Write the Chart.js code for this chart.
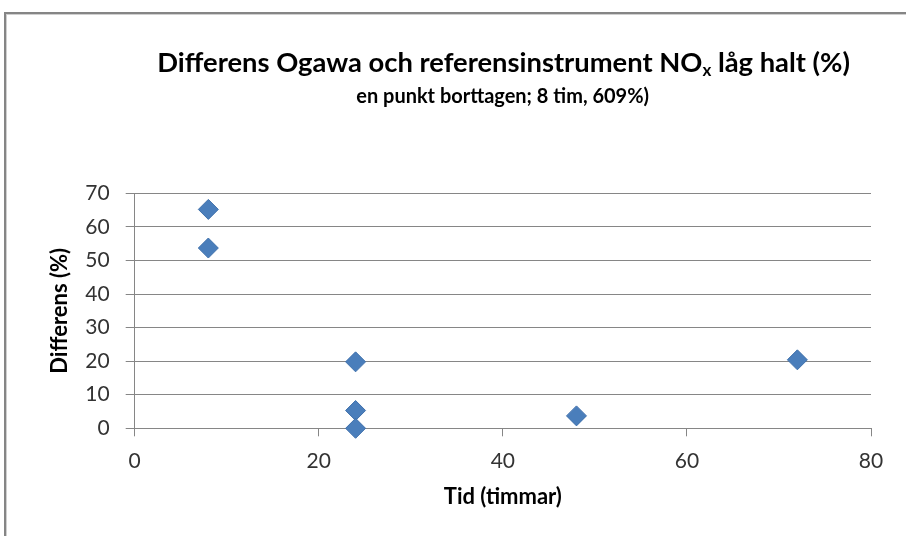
<!DOCTYPE html>
<html>
<head>
<meta charset="utf-8">
<script src="https://cdn.jsdelivr.net/npm/chart.js@4.4.1/dist/chart.umd.min.js"></script>
<style>
html,body{margin:0;padding:0;background:#fff;overflow:hidden;width:906px;height:536px;}
#frame{position:absolute;left:4px;top:12px;width:1000px;height:1000px;border-left:2px solid #858585;border-top:2px solid #858585;box-shadow:inset 1px 1px 0 #cfcfcf;}
#wrap{position:absolute;left:0;top:0;width:906px;height:536px;}
canvas{display:block;}
</style>
</head>
<body>
<div id="frame"></div>
<div id="wrap"><canvas id="c" width="906" height="536"></canvas></div>
<script>
// ---- data ----
const titleMain = 'Differens Ogawa och referensinstrument NO';
const titleSubscript = 'x';
const titleEnd = ' låg halt (%)';
const subtitleText = 'en punkt borttagen; 8 tim, 609%)';
const xAxisTitle = 'Tid (timmar)';
const yAxisTitle = 'Differens (%)';
const timeHours = [8, 8, 24, 24, 24, 48, 72];
const diffPercent = [65.2, 53.7, 19.8, 5.3, 0, 3.7, 20.4];
const xTickValues = [0, 20, 40, 60, 80];
const yTickValues = [0, 10, 20, 30, 40, 50, 60, 70];

const FAMILY = 'Lato, "Liberation Sans", "DejaVu Sans", sans-serif';
Chart.defaults.font.family = FAMILY;

const points = timeHours.map((t, i) => ({x: t, y: diffPercent[i]}));

const titlePlugin = {
  id: 'customTitle',
  afterDraw(chart) {
    const ctx = chart.ctx;
    const ca = chart.chartArea;
    const cx = (ca.left + ca.right) / 2 + 0.8;
    ctx.save();
    ctx.fillStyle = '#000';
    ctx.textBaseline = 'alphabetic';
    ctx.textAlign = 'left';
    const targetW = 693;
    const subRatio = 0.62;
    const measure = (s) => {
      ctx.font = `bold ${s}px ${FAMILY}`;
      const a = ctx.measureText(titleMain).width;
      const c = ctx.measureText(titleEnd).width;
      ctx.font = `bold ${s * subRatio}px ${FAMILY}`;
      const b = ctx.measureText(titleSubscript).width;
      return [a, b, c];
    };
    let m = measure(100);
    const size = 100 * targetW / (m[0] + m[1] + m[2]);
    m = measure(size);
    const total = m[0] + m[1] + m[2];
    let x = cx - total / 2;
    const base = 71.5;
    ctx.font = `bold ${size}px ${FAMILY}`;
    ctx.fillText(titleMain, x, base);
    x += m[0];
    ctx.font = `bold ${size * subRatio}px ${FAMILY}`;
    ctx.fillText(titleSubscript, x, base + 4);
    x += m[1];
    ctx.font = `bold ${size}px ${FAMILY}`;
    ctx.fillText(titleEnd, x, base);
    ctx.font = `bold 100px ${FAMILY}`;
    const sw = ctx.measureText(subtitleText).width;
    const ssize = 100 * 293 / sw;
    ctx.font = `bold ${ssize}px ${FAMILY}`;
    ctx.textAlign = 'center';
    ctx.fillText(subtitleText, cx - 1, 103);
    ctx.restore();
  }
};

new Chart(document.getElementById('c'), {
  type: 'scatter',
  data: {
    datasets: [{
      label: 'Differens',
      data: points,
      pointStyle: 'rectRot',
      pointRadius: 10,
      pointHoverRadius: 10,
      backgroundColor: '#4a7ebb',
      borderColor: '#3f70ab',
      borderWidth: 1,
      clip: false
    }]
  },
  options: {
    responsive: false,
    animation: false,
    devicePixelRatio: 1,
    layout: { padding: { left: 45, right: 35, top: 193.3, bottom: 21.8 } },
    plugins: {
      legend: { display: false },
      title: { display: false },
      tooltip: { enabled: false }
    },
    scales: {
      x: {
        type: 'linear',
        min: 0, max: 80,
        afterBuildTicks(s) { s.ticks = xTickValues.map(v => ({value: v})); },
        ticks: { font: { size: 21 }, color: '#333', padding: 12, maxRotation: 0 },
        grid: { drawOnChartArea: false, drawTicks: true, tickLength: 8, color: '#868686', lineWidth: 1 },
        border: { color: '#868686', width: 1 },
        title: { display: true, text: xAxisTitle, color: '#000', font: { size: 22, weight: 'bold' }, padding: { top: 14, bottom: 4 } },
        afterFit(s) { s.height = 85.9; }
      },
      y: {
        type: 'linear',
        min: 0, max: 70,
        afterBuildTicks(s) { s.ticks = yTickValues.map(v => ({value: v})); },
        ticks: { font: { size: 21 }, color: '#333', padding: 16 },
        grid: { drawOnChartArea: true, drawTicks: true, tickLength: 9, color: '#868686', lineWidth: 1 },
        border: { color: '#868686', width: 1 },
        title: { display: true, text: yAxisTitle, color: '#000', font: { size: 22, weight: 'bold' }, padding: { top: 2, bottom: 4 } },
        afterFit(s) { s.width = 89.7; }
      }
    }
  },
  plugins: [titlePlugin]
});
</script>
</body>
</html>
